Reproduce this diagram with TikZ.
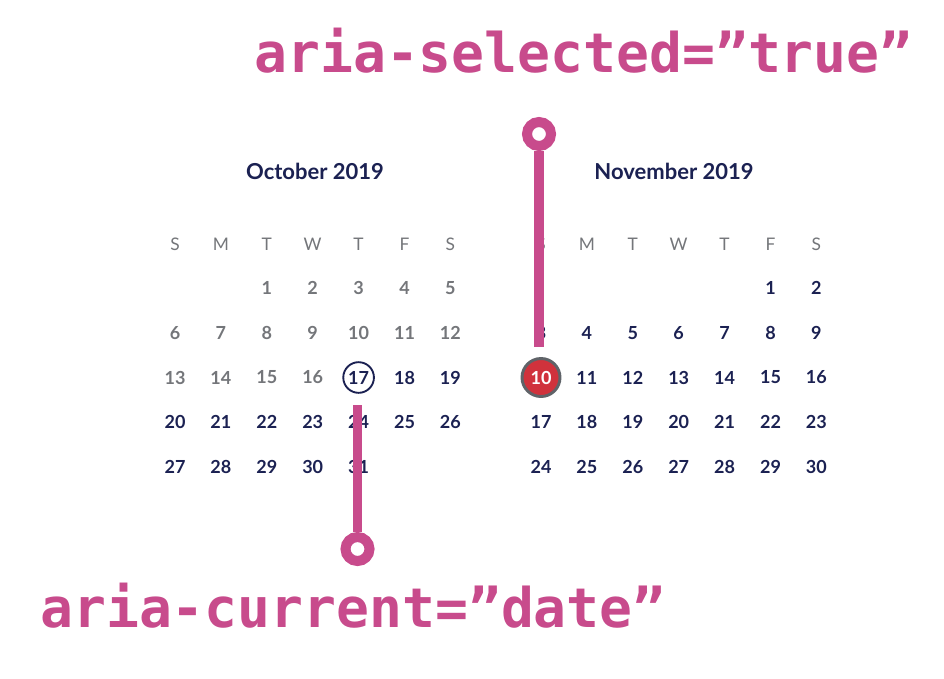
\documentclass[tikz,border=0pt]{standalone}
\usepackage{fontspec}
\setmainfont{Lato}
\newfontfamily\codefont{DejaVu Sans Mono}
\definecolor{pinkc}{HTML}{C84B8C}
\definecolor{navy}{HTML}{1B2152}
\definecolor{grayd}{HTML}{74767A}
\definecolor{redc}{HTML}{D0323C}
\definecolor{ringg}{HTML}{5F6368}
\begin{document}
\begin{tikzpicture}[x=0.75pt,y=-0.75pt,
  wk/.style={inner sep=0pt, text=grayd, font=\fontsize{13}{15}\selectfont},
  dayg/.style={inner sep=0pt, text=grayd, font=\fontsize{13.5}{15}\selectfont\bfseries},
  dayn/.style={inner sep=0pt, text=navy, font=\fontsize{13.5}{15}\selectfont\bfseries},
  month/.style={inner sep=0pt, text=navy, font=\fontsize{16.5}{18}\selectfont\bfseries},
  today/.style={circle, draw=navy, line width=1.4pt, minimum size=23pt, inner sep=0pt, text=navy, font=\fontsize{13.5}{15}\selectfont\bfseries},
  selday/.style={circle, draw=ringg, fill=redc, line width=2.2pt, minimum size=28.5pt, inner sep=0pt, text=white, font=\fontsize{13.5}{15}\selectfont\bfseries},
  pinring/.style={circle, draw=pinkc, line width=7.5pt, minimum size=18pt, inner sep=0pt},
  pinline/.style={draw=pinkc, line width=7.4pt},
  code/.style={inner sep=0pt, anchor=base, text=pinkc, font=\codefont\bfseries\fontsize{41}{45}\selectfont}
]
\useasboundingbox (0,0) rectangle (944,678);
\fill[white] (0,0) rectangle (944,678);
% month headers
\node[month] (octh) at (315,171) {October 2019};
\node[month] (novh) at (674,171) {November 2019};
% weekday headers
\foreach \l [count=\i from 0] in {S,M,T,W,T,F,S}{
  \node[wk] (ow\i) at (175+45.9*\i,244) {\l};
  \node[wk] (nw\i) at (541+45.9*\i,244) {\l};
}
% October days
\foreach \d in {1,...,31}{
  \pgfmathtruncatemacro\c{mod(\d+1,7)}
  \pgfmathtruncatemacro\r{floor((\d+1)/7)}
  \ifnum\d<17
    \node[dayg] (oct\d) at (175+45.9*\c,288+44.75*\r) {\d};
  \else\ifnum\d=17
    \node[today] (oct\d) at (175+45.9*\c,288+44.75*\r) {\d};
  \else
    \node[dayn] (oct\d) at (175+45.9*\c,288+44.75*\r) {\d};
  \fi\fi
}
% November days
\foreach \d in {1,...,30}{
  \pgfmathtruncatemacro\c{mod(\d+4,7)}
  \pgfmathtruncatemacro\r{floor((\d+4)/7)}
  \ifnum\d=10
    \node[selday] (nov\d) at (541+45.9*\c,288+44.75*\r) {\d};
  \else
    \node[dayn] (nov\d) at (541+45.9*\c,288+44.75*\r) {\d};
  \fi
}
% pins
\node[pinring] (pinsel) at (539,134) {};
\coordinate (selend) at (539,347);
\draw[pinline] (pinsel.south) -- (selend);
\node[pinring] (pincur) at (357.5,549) {};
\coordinate (curend) at (357.5,405);
\draw[pinline] (curend) -- (pincur.north);
% labels
\node[code] (lblsel) at (583.5,72) {aria-selected=”true”};
\node[code] (lblcur) at (353,627) {aria-current=”date”};
\end{tikzpicture}
\end{document}
